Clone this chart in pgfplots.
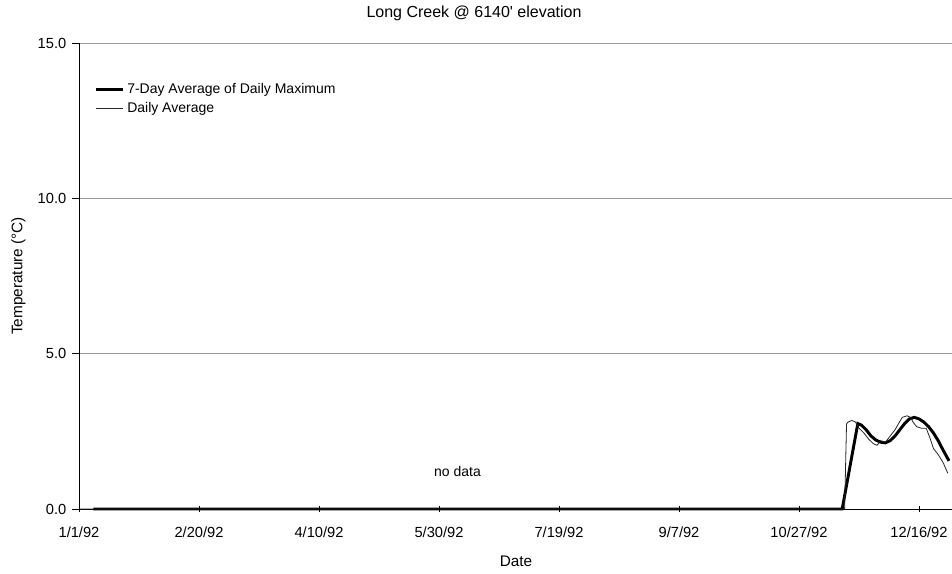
\documentclass[border=0pt]{standalone}
\usepackage{fontspec}
\setmainfont{Liberation Sans}
\newfontfamily\nolig{Liberation Sans}
\usepackage{pgfplots}
\pgfplotsset{compat=1.18}
\begin{document}
\begin{tikzpicture}
\begin{axis}[
  at={(0,0)}, anchor=origin,
  scale only axis,
  width=654.75pt, height=349.5pt,
  xmin=0, xmax=363.75,
  ymin=0, ymax=15,
  axis x line=bottom, axis y line=left,
  axis line style={-, black, line width=0.6pt},
  xtick={0,50,100,150,200,250,300,350},
  xticklabels={1/1/92,2/20/92,4/10/92,5/30/92,7/19/92,9/7/92,10/27/92,12/16/92},
  ytick={0,5,10,15},
  yticklabel={\pgfmathprintnumber[fixed,fixed zerofill,precision=1]{\tick}},
  /pgf/number format/assume math mode=true,
  tick style={black, line width=0.6pt},
  major tick length=5pt,
  xtick align=center,
  ytick align=outside,
  ticklabel style={font=\fontsize{11}{13}\selectfont},
  xticklabel style={yshift=-7pt},
  yticklabel style={xshift=-1pt},
  ymajorgrids,
  grid style={gray!80, line width=0.5pt},
  clip=false,
  legend style={draw=none, fill=none, at={(0.018,0.92)}, anchor=north west,
    font=\fontsize{10.5}{12}\selectfont, row sep=1pt, inner sep=0pt},
  legend cell align=left,
  legend image code/.code={\draw[#1] (0pt,0pt) -- (20pt,0pt);},
]
\addplot[black, line width=2.2pt] coordinates {
 (6,0) (318,0) (324.5,2.75) (326,2.7) (328,2.55) (330,2.35) (332,2.22) (334,2.15)
 (336,2.13) (338,2.2) (340,2.35) (342,2.55) (344,2.75) (346,2.9) (348,2.95)
 (350,2.9) (352,2.8) (354,2.65) (356,2.45) (358,2.2) (360,1.9) (362.5,1.55)
};
\addlegendentry{7-Day Average of Daily Maximum}
\addplot[black!85, line width=0.6pt] coordinates {
 (0,0) (319,0) (319.8,2.74) (320.5,2.8) (322,2.85) (323.5,2.8) (325,2.6) (327,2.45)
 (329,2.25) (331,2.1) (332.5,2.05) (334,2.2) (336,2.15) (338,2.35) (340,2.55)
 (341.5,2.75) (343,2.95) (345,3.0) (346.5,2.95) (347.5,2.8) (349,2.65) (351,2.6)
 (353,2.6) (354.5,2.3) (356,1.95) (358,1.75) (360,1.5) (362,1.15)
};
\addlegendentry{Daily Average}
\node[font=\fontsize{12}{14}\nolig] at (rel axis cs:0.4525,1.0644) {Long Creek @ 6140' elevation};
\node[font=\fontsize{11.5}{13}\selectfont] at (rel axis cs:0.5006,-0.1116) {Date};
\node[font=\fontsize{11.5}{13}\selectfont, rotate=90] at (rel axis cs:-0.0695,0.5) {Temperature (°C)};
\node[font=\fontsize{10.5}{12}\selectfont] at (rel axis cs:0.4335,0.08) {no data};
\end{axis}
\pgfresetboundingbox
\path[use as bounding box] (-59.25pt,-48.75pt) rectangle (654.75pt,381.75pt);
\end{tikzpicture}
\end{document}
